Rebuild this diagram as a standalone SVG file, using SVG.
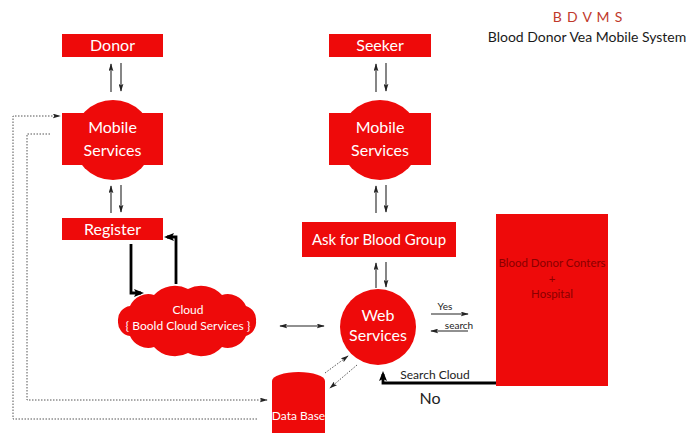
<svg xmlns="http://www.w3.org/2000/svg" width="691" height="433" viewBox="0 0 691 433">
<style>
.red{fill:#ee0a0a}
.lbl{font-family:Lato,"Open Sans","Liberation Sans",sans-serif;fill:#fff;text-anchor:middle}
.big{font-size:16px}
.sm{font-size:12px}
.thin{fill:none;stroke:#222;stroke-width:1.1}
.thick{fill:none;stroke:#000;stroke-width:2.8}
.dot{fill:none;stroke:#555;stroke-width:1;stroke-dasharray:1.5 1.5}
.txt{font-family:Lato,"Open Sans","Liberation Sans",sans-serif;fill:#222;text-anchor:middle}
</style>
<defs>
<marker id="ah" viewBox="0 0 10 6" refX="9" refY="3" markerWidth="8" markerHeight="5" markerUnits="userSpaceOnUse" orient="auto-start-reverse">
<path d="M0,0 L10,3 L0,6 L2,3 z" fill="#222"/>
</marker>
<marker id="ahk" viewBox="0 0 10 8" refX="7" refY="4" markerWidth="10" markerHeight="8" markerUnits="userSpaceOnUse" orient="auto">
<path d="M0,0 L10,4 L0,8 L2,4 z" fill="#000"/>
</marker>
</defs>
<rect width="691" height="433" fill="#fff"/>

<g id="title">
<text x="588" y="22" font-family="Lato,'Open Sans','Liberation Sans',sans-serif" font-size="14" fill="#c0392b" text-anchor="middle" letter-spacing="0.8">B D V M S</text>
<text x="587" y="42" font-family="Lato,'Open Sans','Liberation Sans',sans-serif" font-size="14" fill="#1a1a1a" text-anchor="middle">Blood Donor Vea Mobile System</text>
</g>

<g id="donor">
<rect class="red" x="62" y="34" width="101" height="23"/>
<text class="lbl big" x="112.5" y="51">Donor</text>
</g>

<g id="mobile1">
<circle class="red" cx="113" cy="140" r="40"/>
<rect class="red" x="62" y="113" width="101" height="52"/>
<text class="lbl big" x="112.5" y="133">Mobile</text>
<text class="lbl big" x="112.5" y="156">Services</text>
</g>

<g id="register">
<rect class="red" x="62" y="218" width="101" height="22"/>
<text class="lbl big" x="112.5" y="235">Register</text>
</g>

<g id="cloud">
<path class="red" d="M256,321 A14,14 0 0 1 246,336 A20,20 0 0 1 222,347 A28,28 0 0 1 188,353 A28,28 0 0 1 154,347 A20,20 0 0 1 130,336 A14,14 0 0 1 118,321 A14,14 0 0 1 130,306 A20,20 0 0 1 154,295 A28,28 0 0 1 188,289 A28,28 0 0 1 222,295 A20,20 0 0 1 246,306 A14,14 0 0 1 256,321 Z"/>
<text class="lbl sm" x="188" y="314">Cloud</text>
<text class="lbl sm" x="188" y="330">{ Boold Cloud Services }</text>
</g>

<g id="database">
<path class="red" d="M272,381 A26.5,9 0 0 1 325,381 V433 H272 Z"/>
<text class="lbl sm" x="298.5" y="420">Data Base</text>
</g>

<g id="seeker">
<rect class="red" x="329" y="34" width="102" height="23"/>
<text class="lbl big" x="380" y="51">Seeker</text>
</g>

<g id="mobile2">
<circle class="red" cx="380" cy="140" r="40"/>
<rect class="red" x="329" y="113" width="102" height="52"/>
<text class="lbl big" x="380" y="133">Mobile</text>
<text class="lbl big" x="380" y="156">Services</text>
</g>

<g id="ask">
<rect class="red" x="302" y="222" width="154" height="35"/>
<text class="lbl" x="379" y="245" font-size="15">Ask for Blood Group</text>
</g>

<g id="web">
<circle class="red" cx="378" cy="327" r="38"/>
<text class="lbl big" x="378" y="321">Web</text>
<text class="lbl big" x="378" y="341">Services</text>
</g>

<g id="centers">
<rect class="red" x="496" y="214" width="112" height="172"/>
<text x="552" y="267" font-family="Lato,'Open Sans','Liberation Sans',sans-serif" font-size="11.5" fill="#8a0000" text-anchor="middle">Blood Donor Conters</text>
<text x="552" y="283" font-family="Lato,'Open Sans','Liberation Sans',sans-serif" font-size="11.5" fill="#8a0000" text-anchor="middle">+</text>
<text x="552" y="298" font-family="Lato,'Open Sans','Liberation Sans',sans-serif" font-size="11.5" fill="#8a0000" text-anchor="middle">Hospital</text>
</g>

<g id="connectors">
<path class="thin" d="M111,92 V64" marker-end="url(#ah)"/>
<path class="thin" d="M121,63 V91" marker-end="url(#ah)"/>
<path class="thin" d="M111,213 V186" marker-end="url(#ah)"/>
<path class="thin" d="M121,185 V212" marker-end="url(#ah)"/>
<path class="thin" d="M376,92 V64" marker-end="url(#ah)"/>
<path class="thin" d="M386,63 V91" marker-end="url(#ah)"/>
<path class="thin" d="M376,213 V186" marker-end="url(#ah)"/>
<path class="thin" d="M386,185 V212" marker-end="url(#ah)"/>
<path class="thin" d="M376,288 V263" marker-end="url(#ah)"/>
<path class="thin" d="M386,262 V287" marker-end="url(#ah)"/>
<path class="thin" d="M280,326 H324" marker-start="url(#ah)" marker-end="url(#ah)"/>
<path class="thin" d="M431,314 H468" marker-end="url(#ah)"/>
<path class="thin" d="M468,331 H431" marker-end="url(#ah)"/>
<path class="thick" d="M131,244 V293 H141" marker-end="url(#ahk)"/>
<path class="thick" d="M176,284 V237 H167" marker-end="url(#ahk)"/>
<path class="thick" d="M496,383 H383 V374" marker-end="url(#ahk)"/>
<path class="dot" d="M325,373 L348,356" marker-end="url(#ah)"/>
<path class="dot" d="M357,365 L330,388" marker-end="url(#ah)"/>
<path class="dot" d="M257,419 H13 V116 H60" marker-end="url(#ah)"/>
<path class="dot" d="M50,134 H27 V400 H267" marker-end="url(#ah)"/>
<text class="txt" x="445" y="310" font-size="10">Yes</text>
<text class="txt" x="459" y="329" font-size="10">search</text>
<text class="txt" x="435" y="379" font-size="12">Search Cloud</text>
<text class="txt" x="430" y="404" font-size="16">No</text>
</g>
</svg>
